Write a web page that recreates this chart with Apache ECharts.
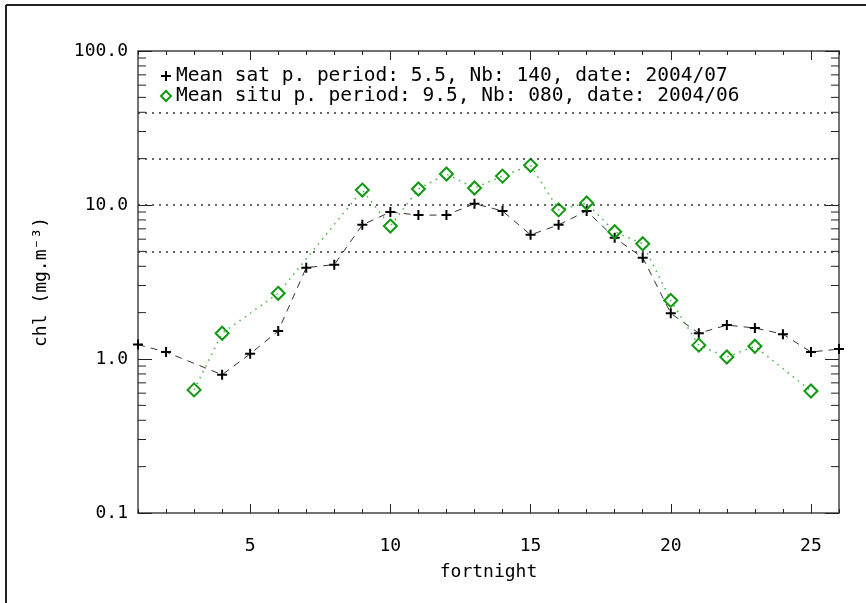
<!DOCTYPE html>
<html>
<head>
  <meta charset="utf-8">
  <title>chl per fortnight</title>
  <script src="https://cdn.jsdelivr.net/npm/echarts@6/dist/echarts.min.js"></script>
</head>
<body style="margin:0;background:#fff">
  <div id="main" style="width:866px;height:603px;"></div>
  <script type="text/javascript">
    var chart = echarts.init(document.getElementById('main'));

    // data (null = no value that fortnight)
    var fortnights = [1,2,3,4,5,6,7,8,9,10,11,12,13,14,15,16,17,18,19,20,21,22,23,24,25,26];
    var satMean = [1.24,1.11,null,0.79,1.08,1.52,3.92,4.10,7.43,9.0,8.6,8.6,10.2,9.15,6.4,7.43,9.15,6.12,4.55,1.98,1.47,1.66,1.59,1.45,1.11,1.16];
    var situMean = [null,null,0.63,1.47,null,2.67,null,null,12.5,7.3,12.7,15.9,12.9,15.4,18.1,9.3,10.3,6.7,5.6,2.40,1.23,1.03,1.21,null,0.62,null];
    var satName = 'Mean sat p. period: 5.5, Nb: 140, date: 2004/07';
    var situName = 'Mean situ p. period: 9.5, Nb: 080, date: 2004/06';
    var dottedLevels = [5, 10, 20, 40];
    var yMinorTicks = [0.2,0.3,0.4,0.5,0.6,0.7,0.8,0.9,2,3,4,5,6,7,8,9,20,30,40,50,60,70,80,90];
    var xMajorTicks = [5, 10, 15, 20, 25];

    var font = 'DejaVu Sans Mono';
    var plusPath = 'path://M4,0H6V4H10V6H6V10H4V6H0V4H4Z';

    function pairs(values) {
      var out = [];
      values.forEach(function (v, i) {
        if (v != null) out.push([fortnights[i], v]);
      });
      return out;
    }

    var xMin = fortnights[0], xMax = fortnights[fortnights.length - 1];
    var axisColor = '#444';

    function xAxisDef(pos, showLabels, major) {
      var a = {
        type: 'value', position: pos, min: xMin, max: xMax, interval: 1,
        axisLine: { show: !major, lineStyle: { color: axisColor, width: 1.5 } },
        axisTick: { inside: true, length: major ? 9 : 4, lineStyle: { color: '#222' } },
        axisLabel: { show: false },
        splitLine: { show: false }
      };
      if (major) a.axisTick.customValues = xMajorTicks;
      if (showLabels) {
        a.axisLabel = {
          show: true, margin: 24, color: '#000', fontFamily: font, fontSize: 18,
          customValues: xMajorTicks
        };
        a.name = 'fortnight';
        a.nameLocation = 'middle';
        a.nameGap = 50;
        a.nameTextStyle = { color: '#000', fontFamily: font, fontSize: 18 };
      }
      return a;
    }

    function yAxisDef(pos, showLabels) {
      var a = {
        type: 'log', logBase: 10, position: pos, min: 0.1, max: 100,
        axisLine: { show: true, lineStyle: { color: axisColor, width: 1.5 } },
        axisTick: { inside: true, length: 14, lineStyle: { color: '#222' } },
        axisLabel: { show: false },
        splitLine: { show: false }
      };
      if (showLabels) {
        a.axisLabel = {
          show: true, margin: 10, color: '#000', fontFamily: font, fontSize: 18,
          formatter: function (v) { return Number(v).toFixed(1); }
        };
        a.name = 'chl (mg.m\u207B\u00B3)';
        a.nameLocation = 'middle';
        a.nameGap = 88;
        a.nameTextStyle = { color: '#000', fontFamily: font, fontSize: 18 };
      }
      return a;
    }

    var option = {
      animation: false,
      backgroundColor: '#fff',
      grid: { left: 138, right: 27, top: 51, bottom: 90 },
      graphic: [
        { type: 'line', shape: { x1: 6, y1: 5, x2: 866, y2: 5 }, style: { stroke: '#222', lineWidth: 2 } },
        { type: 'line', shape: { x1: 6, y1: 5, x2: 6, y2: 603 }, style: { stroke: '#222', lineWidth: 2 } }
      ],
      legend: {
        left: 155, top: 61, orient: 'vertical', itemGap: 0,
        itemWidth: 10, itemHeight: 10, selectedMode: false,
        textStyle: { color: '#000', fontFamily: font, fontSize: 19.5, lineHeight: 16 },
        data: [
          { name: satName, icon: plusPath, itemStyle: { color: '#000', borderWidth: 0 } },
          { name: situName, icon: 'diamond', itemStyle: { color: 'rgba(0,0,0,0)', borderColor: '#119911', borderWidth: 2 } }
        ]
      },
      xAxis: [
        xAxisDef('bottom', true, false),
        xAxisDef('bottom', false, true),
        xAxisDef('top', false, false),
        xAxisDef('top', false, true)
      ],
      yAxis: [
        yAxisDef('left', true),
        yAxisDef('right', false)
      ],
      series: [
        {
          type: 'custom',
          silent: true,
          data: yMinorTicks.map(function (v) { return [xMin, v]; }),
          renderItem: function (params, api) {
            var p = api.coord([xMin, api.value(1)]);
            var q = api.coord([xMax, api.value(1)]);
            return {
              type: 'group',
              children: [
                { type: 'line', shape: { x1: p[0], y1: p[1], x2: p[0] + 8, y2: p[1] }, style: { stroke: '#222', lineWidth: 1 } },
                { type: 'line', shape: { x1: q[0] - 8, y1: q[1], x2: q[0], y2: q[1] }, style: { stroke: '#222', lineWidth: 1 } }
              ]
            };
          },
          markLine: {
            silent: true, symbol: 'none', animation: false,
            label: { show: false },
            lineStyle: { color: '#333', type: [2, 5], width: 1.5 },
            data: dottedLevels.map(function (v) { return { yAxis: v }; })
          }
        },
        {
          name: satName,
          type: 'line',
          data: pairs(satMean),
          symbol: plusPath,
          symbolSize: 10,
          itemStyle: { color: '#000' },
          lineStyle: { color: '#333', width: 1, type: [7, 6] },
          z: 3
        },
        {
          name: situName,
          type: 'line',
          data: pairs(situMean),
          symbol: 'diamond',
          symbolSize: 13,
          itemStyle: { color: 'rgba(0,0,0,0)', borderColor: '#119911', borderWidth: 2 },
          lineStyle: { color: '#3fb83f', width: 1.5, type: [1.5, 5] },
          z: 4
        }
      ]
    };

    chart.setOption(option);
  </script>
</body>
</html>
